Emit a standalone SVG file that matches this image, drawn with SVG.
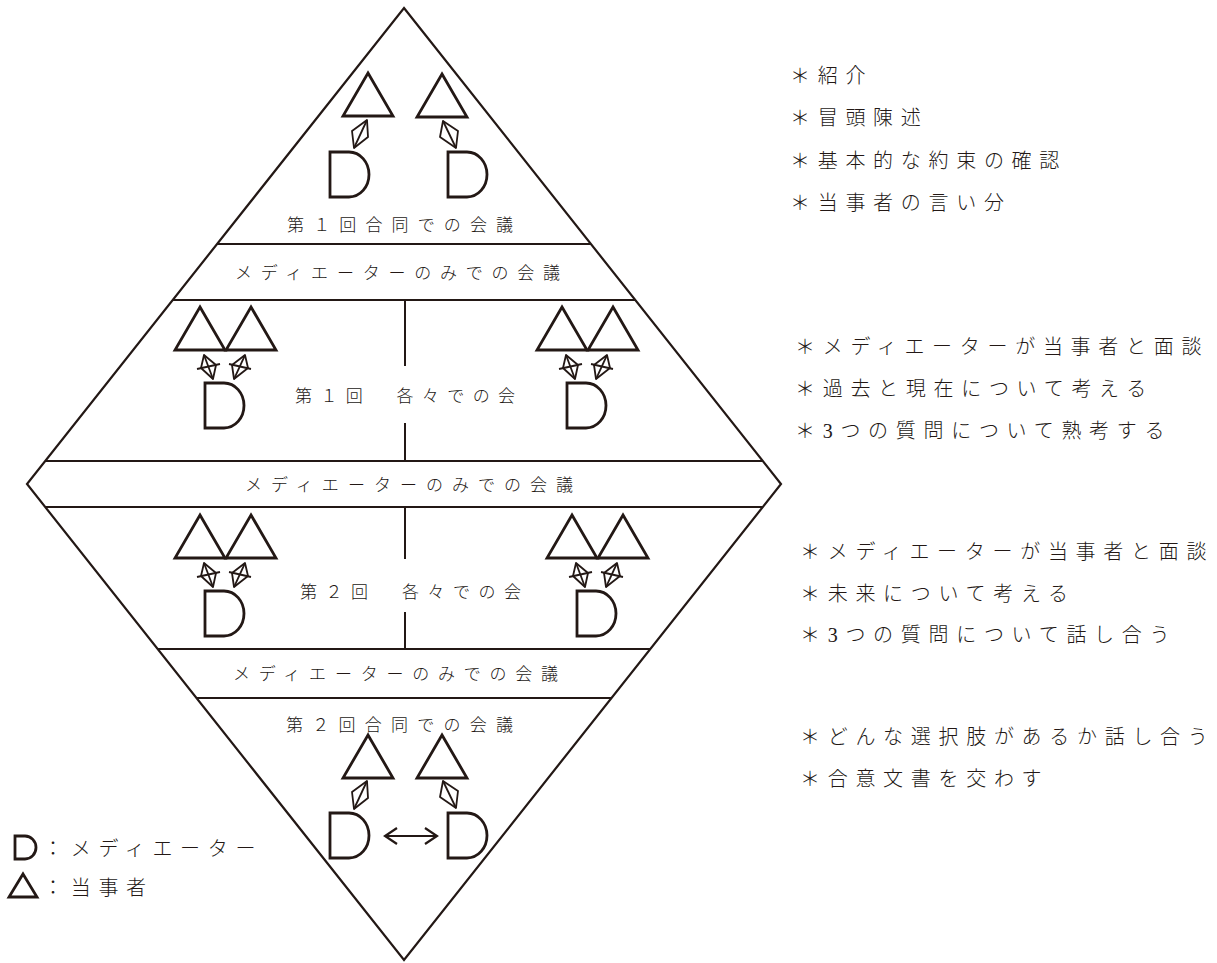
<svg xmlns="http://www.w3.org/2000/svg" xmlns:xlink="http://www.w3.org/1999/xlink" width="1217" height="963" viewBox="0 0 1217 963">
<defs>
<style>
.frame{fill:none;stroke:#231815;stroke-width:2.2;stroke-linejoin:miter}
.sep{fill:none;stroke:#231815;stroke-width:2}
.shape{fill:none;stroke:#231815;stroke-width:2.8;stroke-linejoin:miter}
.kite{fill:none;stroke:#231815;stroke-width:1.8;stroke-linejoin:round}
.lbl{font-family:"Noto Sans CJK JP","Noto Sans CJK SC",sans-serif;font-size:17px;font-weight:300;fill:#231815}
.note{font-family:"Liberation Serif","Noto Sans CJK JP",serif;font-size:20px;font-weight:300;fill:#231815;letter-spacing:7.7px}
.leg{font-family:"Noto Sans CJK JP",sans-serif;font-size:20px;font-weight:300;fill:#231815;letter-spacing:7.7px}
</style>
<path id="dsh" d="M0,0 H19 A20 22.5 0 0 1 19,45 H0 Z"/>
<path id="tri" d="M25,0 L50,43 L0,43 Z"/>
</defs>
<rect x="0" y="0" width="1217" height="963" fill="#ffffff"/>

<g id="frame">
<polygon class="frame" points="404,8 781,484 404,960 27,484"/>
<line class="sep" x1="217" y1="244" x2="591" y2="244"/>
<line class="sep" x1="173" y1="300" x2="635" y2="300"/>
<line class="sep" x1="45" y1="461" x2="763" y2="461"/>
<line class="sep" x1="45" y1="507" x2="763" y2="507"/>
<line class="sep" x1="158" y1="649" x2="650" y2="649"/>
<line class="sep" x1="197" y1="698" x2="611" y2="698"/>
<line class="sep" x1="405" y1="300" x2="405" y2="366"/>
<line class="sep" x1="405" y1="423" x2="405" y2="461"/>
<line class="sep" x1="405" y1="507" x2="405" y2="559"/>
<line class="sep" x1="405" y1="612" x2="405" y2="649"/>
</g>

<g id="labels">
<text class="lbl" x="287" y="230.5" textLength="226" lengthAdjust="spacing">第１回合同での会議</text>
<text class="lbl" x="235" y="278.5" textLength="325" lengthAdjust="spacing">メディエーターのみでの会議</text>
<text class="lbl" x="295" y="401.5" textLength="220" lengthAdjust="spacing">第１回　各々での会</text>
<text class="lbl" x="245" y="490.5" textLength="328" lengthAdjust="spacing">メディエーターのみでの会議</text>
<text class="lbl" x="300" y="597.5" textLength="221" lengthAdjust="spacing">第２回　各々での会</text>
<text class="lbl" x="233" y="679.5" textLength="325" lengthAdjust="spacing">メディエーターのみでの会議</text>
<text class="lbl" x="286" y="730.5" textLength="227" lengthAdjust="spacing">第２回合同での会議</text>
</g>

<!-- Section 1: first joint meeting -->
<g id="s1-party-a" class="shape"><use href="#tri" x="343" y="73"/></g>
<g id="s1-party-b" class="shape"><use href="#tri" x="417" y="74"/></g>
<g id="s1-mediator-a" class="shape"><use href="#dsh" x="330" y="152"/></g>
<g id="s1-mediator-b" class="shape"><use href="#dsh" x="448" y="152"/></g>

<!-- Section 2: first separate meetings -->
<g id="s2-left-party-1" class="shape"><use href="#tri" x="175" y="307"/></g>
<g id="s2-left-party-2" class="shape"><use href="#tri" x="226" y="307"/></g>
<g id="s2-left-mediator" class="shape"><use href="#dsh" x="205" y="383"/></g>
<g id="s2-right-party-1" class="shape"><use href="#tri" x="537" y="307"/></g>
<g id="s2-right-party-2" class="shape"><use href="#tri" x="588" y="307"/></g>
<g id="s2-right-mediator" class="shape"><use href="#dsh" x="567" y="383"/></g>

<!-- Section 3: second separate meetings -->
<g id="s3-left-party-1" class="shape"><use href="#tri" x="175" y="515"/></g>
<g id="s3-left-party-2" class="shape"><use href="#tri" x="226" y="515"/></g>
<g id="s3-left-mediator" class="shape"><use href="#dsh" x="205" y="591"/></g>
<g id="s3-right-party-1" class="shape"><use href="#tri" x="547" y="515"/></g>
<g id="s3-right-party-2" class="shape"><use href="#tri" x="598" y="515"/></g>
<g id="s3-right-mediator" class="shape"><use href="#dsh" x="577" y="591"/></g>

<!-- Section 4: second joint meeting -->
<g id="s4-party-a" class="shape"><use href="#tri" x="343" y="735"/></g>
<g id="s4-party-b" class="shape"><use href="#tri" x="417" y="735"/></g>
<g id="s4-mediator-a" class="shape"><use href="#dsh" x="330" y="813"/></g>
<g id="s4-mediator-b" class="shape"><use href="#dsh" x="448" y="813"/></g>

<g id="connectors" class="kite">
<polygon points="367,120 368,137 354,148 352,131"/><line x1="354" y1="148" x2="367" y2="120"/>
<polygon points="443,121 458,131 456,148 440,137"/><line x1="443" y1="121" x2="456" y2="148"/>

<polygon points="204,355 216,365 213,379 201,368"/><line x1="204" y1="355" x2="213" y2="379"/><line x1="197" y1="369" x2="220" y2="364"/>
<polygon points="245,355 248,368 234,379 232,365"/><line x1="245" y1="355" x2="234" y2="379"/><line x1="229" y1="364" x2="251" y2="369"/>
<polygon points="566,355 578,365 575,379 563,368"/><line x1="566" y1="355" x2="575" y2="379"/><line x1="559" y1="369" x2="582" y2="364"/>
<polygon points="607,355 610,368 596,379 594,365"/><line x1="607" y1="355" x2="596" y2="379"/><line x1="591" y1="364" x2="613" y2="369"/>

<polygon points="204,563 216,573 213,587 201,576"/><line x1="204" y1="563" x2="213" y2="587"/><line x1="197" y1="577" x2="220" y2="572"/>
<polygon points="245,563 248,576 234,587 232,573"/><line x1="245" y1="563" x2="234" y2="587"/><line x1="229" y1="572" x2="251" y2="577"/>
<polygon points="576,563 588,573 585,587 573,576"/><line x1="576" y1="563" x2="585" y2="587"/><line x1="569" y1="577" x2="592" y2="572"/>
<polygon points="617,563 620,576 606,587 604,573"/><line x1="617" y1="563" x2="606" y2="587"/><line x1="601" y1="572" x2="623" y2="577"/>

<polygon points="367,781 368,798 354,809 352,792"/><line x1="354" y1="809" x2="367" y2="781"/>
<polygon points="443,781 458,791 456,808 440,797"/><line x1="443" y1="781" x2="456" y2="808"/>

<line x1="385" y1="836" x2="437" y2="836" stroke-width="2.2"/>
<polyline points="397,828 385,836 397,844" stroke-width="2.2" stroke-linejoin="miter"/>
<polyline points="425,828 437,836 425,844" stroke-width="2.2" stroke-linejoin="miter"/>
</g>

<g id="notes">
<text class="note" x="790" y="82.6">＊紹介</text>
<text class="note" x="790" y="124.6">＊冒頭陳述</text>
<text class="note" x="790" y="167.6">＊基本的な約束の確認</text>
<text class="note" x="790" y="209.6">＊当事者の言い分</text>
<text class="note" x="795" y="353.6">＊メディエーターが当事者と面談</text>
<text class="note" x="795" y="395.6">＊過去と現在について考える</text>
<text class="note" x="795" y="437.6">＊3つの質問について熟考する</text>
<text class="note" x="800" y="558.6">＊メディエーターが当事者と面談</text>
<text class="note" x="800" y="600.6">＊未来について考える</text>
<text class="note" x="800" y="641.6">＊3つの質問について話し合う</text>
<text class="note" x="800" y="743.6">＊どんな選択肢があるか話し合う</text>
<text class="note" x="800" y="785.6">＊合意文書を交わす</text>
</g>

<g id="legend">
<path class="shape" d="M15,836 H25 A11 11.5 0 0 1 25,859 H15 Z"/>
<text class="leg" x="43" y="855.6">：メディエーター</text>
<polygon class="shape" points="23,874 37,897 9,897"/>
<text class="leg" x="43" y="894.6">：当事者</text>
</g>
</svg>
